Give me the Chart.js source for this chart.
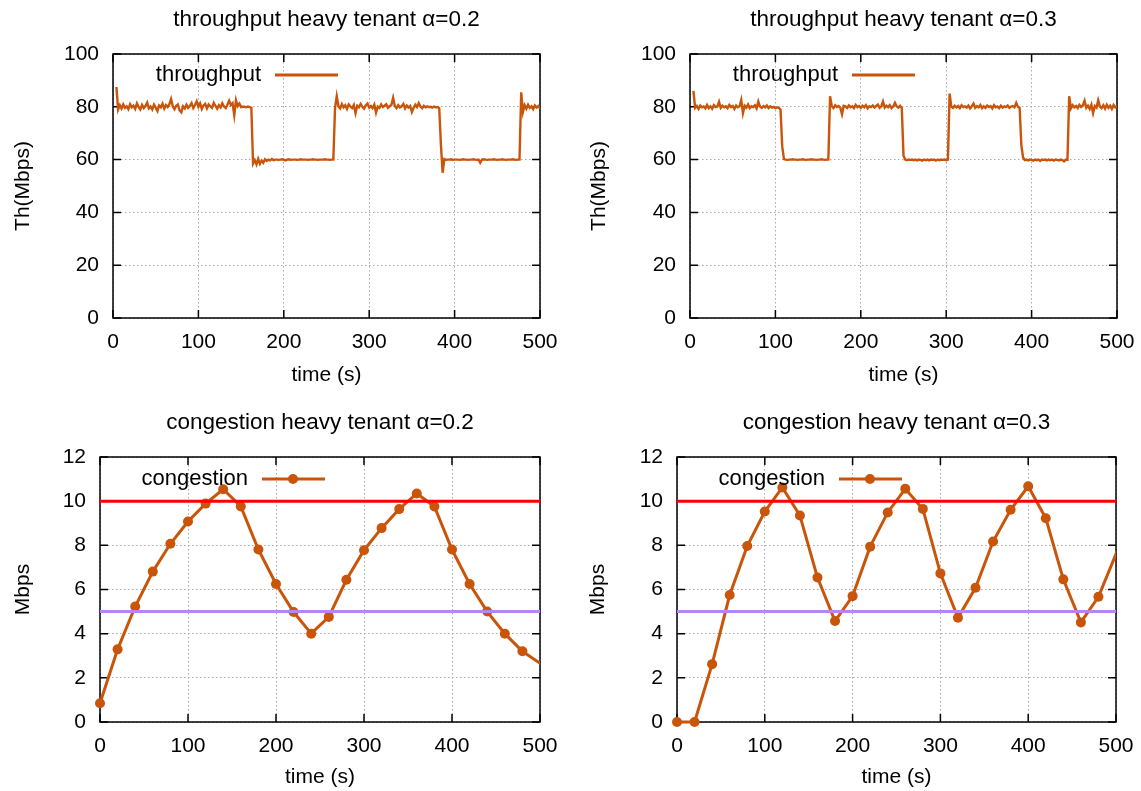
<!DOCTYPE html>
<html>
<head>
<meta charset="utf-8">
<title>heavy tenant</title>
<style>
  body { margin: 0; background: #fff; }
  .panel { position: absolute; }
</style>
</head>
<body>
<div class="panel" style="left:0px;top:0px"><canvas id="thr02" width="570" height="395"></canvas></div>
<div class="panel" style="left:570px;top:0px"><canvas id="thr03" width="571" height="395"></canvas></div>
<div class="panel" style="left:0px;top:395px"><canvas id="cong02" width="570" height="396"></canvas></div>
<div class="panel" style="left:570px;top:395px"><canvas id="cong03" width="571" height="396"></canvas></div>

<script src="https://cdn.jsdelivr.net/npm/chart.js"></script>
<script>
// ---- data ----
const THR_START = 4;   // first throughput sample (s)
const THR_STEP = 2;    // throughput sampling interval (s)

// throughput of the heavy tenant, alpha = 0.2 (Mbps), one row = 20 s
const thr02 = [
  87.5, 79.0, 80.6, 79.3, 80.9, 79.6, 80.2, 79.1, 81.0, 79.8,
  80.4, 79.2, 81.3, 80.0, 79.0, 80.7, 79.5, 80.3, 81.6, 79.4,
  80.1, 79.0, 80.8, 79.7, 78.4, 80.5, 79.8, 81.2, 79.3, 80.6,
  79.9, 81.0, 83.0, 80.2, 79.1, 80.4, 80.9, 78.6, 77.9, 80.2,
  79.4, 80.8, 79.6, 80.3, 81.4, 79.5, 80.7, 82.1, 80.0, 81.3,
  79.2, 80.5, 81.1, 79.4, 80.9, 80.2, 79.6, 81.5, 80.4, 79.3,
  80.6, 79.8, 81.3, 80.1, 79.5, 80.8, 82.3, 80.7, 81.4, 76.8,
  82.5, 80.3, 81.2, 79.9, 80.0, 80.0, 79.8, 80.1, 79.9, 79.6,
  58.5, 59.8, 58.2, 60.3, 58.4, 59.6, 58.8, 60.1, 59.5, 60.0,
  59.7, 60.2, 59.8, 60.0, 60.0, 59.9, 60.0, 60.1, 60.0, 59.7,
  60.0, 60.1, 59.9, 60.0, 60.0, 60.0, 59.9, 60.0, 60.1, 60.0,
  60.0, 60.0, 59.9, 60.0, 60.0, 60.1, 60.0, 60.0, 59.9, 60.0,
  60.0, 60.0, 60.1, 60.0, 60.0, 59.9, 60.0, 60.0, 79.5, 84.0,
  80.2, 79.4, 81.0, 79.8, 80.6, 79.2, 80.9, 80.1, 79.5, 80.7,
  77.6, 80.4, 79.8, 81.1, 80.0, 79.3, 80.6, 81.2, 79.7, 80.3,
  79.5, 80.8, 77.8, 80.1, 79.6, 80.9, 79.9, 80.4, 81.0, 79.6,
  80.2, 80.7, 83.4, 80.3, 79.5, 80.6, 79.8, 80.2, 81.1, 79.4,
  80.5, 79.7, 80.3, 78.0, 79.6, 80.8, 79.9, 81.4, 80.1, 79.5,
  80.4, 79.8, 80.2, 79.9, 80.0, 79.7, 80.1, 79.8, 79.9, 79.5,
  65.5, 55.0, 60.2, 59.9, 60.0, 60.0, 60.1, 59.9, 60.0, 60.0,
  60.0, 59.9, 60.0, 60.1, 60.0, 60.0, 59.9, 60.0, 60.0, 60.1,
  60.0, 59.9, 60.0, 58.8, 60.0, 60.1, 60.0, 59.9, 60.0, 60.0,
  60.0, 60.1, 60.0, 59.9, 60.0, 60.0, 60.1, 60.0, 59.9, 60.0,
  60.0, 60.0, 60.1, 60.0, 59.9, 60.0, 60.0, 85.5, 78.0, 80.6,
  79.3, 80.8, 79.6, 80.2, 79.1, 80.5, 79.7, 80.3, 79.4
];

// throughput of the heavy tenant, alpha = 0.3 (Mbps)
const thr03 = [
  86.0, 79.6, 80.3, 79.2, 80.5, 79.8, 80.1, 79.4, 80.7, 79.5,
  80.2, 79.3, 80.6, 79.9, 80.1, 81.9, 79.6, 80.4, 79.8, 80.2,
  79.5, 80.7, 79.9, 80.3, 79.2, 80.5, 79.8, 80.2, 82.6, 77.6,
  80.4, 79.7, 80.9, 79.5, 80.2, 79.9, 80.6, 79.4, 82.0, 80.1,
  79.6, 80.3, 79.8, 80.5, 79.5, 80.2, 79.7, 80.0, 79.5, 79.8,
  79.6, 79.0, 65.0, 60.2, 60.0, 59.9, 60.0, 60.0, 60.1, 60.0,
  60.0, 59.9, 60.0, 60.0, 60.1, 60.0, 59.9, 60.0, 60.0, 60.1,
  60.0, 60.0, 59.9, 60.0, 60.0, 60.1, 60.0, 59.9, 60.0, 60.0,
  84.0, 80.2, 79.5, 80.6, 79.9, 80.3, 79.7, 77.2, 80.4, 80.2,
  79.6, 80.5, 79.8, 80.2, 79.5, 80.7, 79.9, 80.3, 79.6, 80.4,
  79.8, 80.6, 79.4, 80.2, 79.9, 80.5, 79.7, 80.3, 80.8, 79.6,
  80.2, 82.0, 79.7, 80.4, 79.8, 80.6, 79.5, 80.1, 81.5, 80.2,
  79.7, 80.4, 79.6, 61.5, 60.0, 59.8, 60.0, 59.9, 60.0, 59.8,
  60.0, 59.7, 60.0, 59.9, 59.6, 60.0, 59.8, 60.0, 59.7, 60.0,
  59.9, 60.0, 59.6, 60.0, 59.8, 60.0, 59.9, 60.0, 59.8, 60.0,
  85.0, 80.1, 79.6, 80.4, 79.8, 80.3, 79.5, 80.6, 79.9, 80.2,
  79.7, 80.5, 79.4, 80.2, 81.2, 79.6, 80.3, 79.8, 80.7, 79.5,
  80.2, 79.6, 80.5, 79.9, 80.3, 79.4, 80.6, 79.8, 80.1, 79.5,
  80.4, 79.7, 80.2, 79.9, 80.5, 79.6, 80.1, 80.3, 79.8, 81.5,
  80.0, 79.6, 65.5, 60.8, 59.8, 60.0, 59.7, 60.0, 59.9, 59.6,
  60.0, 59.8, 60.0, 59.5, 60.0, 59.9, 60.0, 59.7, 60.0, 59.8,
  60.0, 59.6, 60.0, 59.9, 59.7, 60.0, 59.8, 59.3, 60.0, 59.9,
  84.0, 79.4, 80.6, 79.8, 80.3, 79.5, 80.7, 79.9, 80.5, 82.3,
  79.6, 80.4, 79.2, 80.8, 77.6, 80.3, 79.7, 82.5, 80.1, 79.5,
  80.6, 79.3, 80.8, 79.6, 80.4, 79.2, 80.7, 79.8, 80.2
];

// congestion samples (s) and values (Mbps)
const congTime = [0, 20, 40, 60, 80, 100, 120, 140, 160, 180, 200, 220, 240,
                  260, 280, 300, 320, 340, 360, 380, 400, 420, 440, 460, 480, 520];
const cong02 = [0.85, 3.29, 5.23, 6.81, 8.07, 9.08, 9.89, 10.54, 9.76, 7.81, 6.25, 4.98, 4.0,
                4.76, 6.44, 7.78, 8.78, 9.64, 10.35, 9.76, 7.81, 6.25, 5.0, 4.0, 3.2, 2.12];
const cong03 = [0, 0, 2.62, 5.75, 7.97, 9.53, 10.62, 9.35, 6.54, 4.57, 5.70, 7.94, 9.49,
                10.56, 9.65, 6.73, 4.72, 6.08, 8.17, 9.61, 10.67, 9.23, 6.46, 4.51, 5.67, 9.55];
const congHigh = 10;
const congLow = 5;

const timeTicks = [0, 100, 200, 300, 400, 500];
const thrTicks = [0, 20, 40, 60, 80, 100];
const congTicks = [0, 2, 4, 6, 8, 10, 12];

// ---- style ----
const ORANGE = '#c9550a';
const FONT = '"Liberation Sans", Arial, sans-serif';
Chart.defaults.font.family = FONT;
Chart.defaults.color = '#000';

// gnuplot-like border with inward tick marks on all four sides
const gnuFrame = {
  id: 'gnuFrame',
  beforeDatasetsDraw(chart) {
    const { ctx, chartArea: a, scales: { x, y } } = chart;
    const len = 8;
    ctx.save();
    ctx.strokeStyle = '#000';
    ctx.lineWidth = 1.5;
    ctx.beginPath();
    x.ticks.forEach(t => {
      const px = x.getPixelForValue(t.value);
      ctx.moveTo(px, a.bottom); ctx.lineTo(px, a.bottom - len);
      ctx.moveTo(px, a.top); ctx.lineTo(px, a.top + len);
    });
    y.ticks.forEach(t => {
      const py = y.getPixelForValue(t.value);
      ctx.moveTo(a.left, py); ctx.lineTo(a.left + len, py);
      ctx.moveTo(a.right, py); ctx.lineTo(a.right - len, py);
    });
    ctx.stroke();
    ctx.strokeRect(a.left, a.top, a.right - a.left, a.bottom - a.top);
    ctx.restore();
  }
};

// key inside the plot: label, then line sample (and point)
const gnuKey = {
  id: 'gnuKey',
  afterDatasetsDraw(chart, args, opts) {
    const { ctx, chartArea: a } = chart;
    const y = a.top + opts.dy;
    ctx.save();
    ctx.font = '22px ' + FONT;
    ctx.fillStyle = '#000';
    ctx.textAlign = 'right';
    ctx.textBaseline = 'middle';
    ctx.fillText(opts.text, a.left + 148, y);
    ctx.strokeStyle = ORANGE;
    ctx.lineWidth = 3;
    ctx.beginPath();
    ctx.moveTo(a.left + 162, y);
    ctx.lineTo(a.left + 225, y);
    ctx.stroke();
    if (opts.marker) {
      ctx.fillStyle = ORANGE;
      ctx.beginPath();
      ctx.arc(a.left + 193, y, 5, 0, Math.PI * 2);
      ctx.fill();
    }
    ctx.restore();
  }
};

function panel(id, g, datasets, yTicks, yLabel, title, key) {
  new Chart(document.getElementById(id), {
    type: 'line',
    data: { datasets: datasets },
    plugins: [gnuFrame, gnuKey],
    options: {
      responsive: false,
      animation: false,
      events: [],
      layout: { padding: { left: 0, top: 0, right: g.padRight, bottom: 0 } },
      plugins: {
        legend: { display: false },
        tooltip: { enabled: false },
        title: {
          display: true, text: title, fullSize: false, color: '#000',
          font: { size: 22.5, weight: 'normal' },
          padding: { top: g.titleTop, bottom: g.titleBottom }
        },
        gnuKey: key
      },
      scales: {
        x: {
          type: 'linear',
          min: timeTicks[0], max: timeTicks[timeTicks.length - 1],
          afterBuildTicks: s => { s.ticks = timeTicks.map(v => ({ value: v })); },
          afterFit: s => { s.height = g.xHeight; s.paddingLeft = 0; s.paddingRight = 0; },
          grid: { color: '#a8a8a8', lineWidth: 1, drawTicks: false },
          border: { display: false, dash: [1.5, 2.5] },
          ticks: { padding: 12, font: { size: 21 }, color: '#000', maxRotation: 0 },
          title: { display: true, text: 'time (s)', color: '#000', font: { size: 21 },
                   padding: { top: 0, bottom: g.xTitlePad } }
        },
        y: {
          type: 'linear',
          min: yTicks[0], max: yTicks[yTicks.length - 1],
          afterBuildTicks: s => { s.ticks = yTicks.map(v => ({ value: v })); },
          afterFit: s => { s.width = g.yWidth; s.paddingTop = 0; s.paddingBottom = 0; },
          grid: { color: '#a8a8a8', lineWidth: 1, drawTicks: false },
          border: { display: false, dash: [1.5, 2.5] },
          ticks: { padding: 14, font: { size: 21 }, color: '#000' },
          title: { display: true, text: yLabel, color: '#000', font: { size: 21 },
                   padding: { top: g.yTitlePad, bottom: 0 } }
        }
      }
    }
  });
}

function thrSet(values) {
  return [{
    data: values.map((v, i) => ({ x: THR_START + i * THR_STEP, y: v })),
    borderColor: ORANGE, borderWidth: 2.4, pointRadius: 0, tension: 0
  }];
}

function congSets(values) {
  const x0 = timeTicks[0], x1 = timeTicks[timeTicks.length - 1];
  return [
    { data: [{ x: x0, y: congHigh }, { x: x1, y: congHigh }],
      borderColor: '#ff0000', borderWidth: 3, pointRadius: 0 },
    { data: [{ x: x0, y: congLow }, { x: x1, y: congLow }],
      borderColor: '#b884f5', borderWidth: 3, pointRadius: 0 },
    { data: values.map((v, i) => ({ x: congTime[i], y: v })),
      borderColor: ORANGE, borderWidth: 3, tension: 0,
      pointRadius: 5, pointBackgroundColor: ORANGE, pointBorderWidth: 0,
      clip: { left: 8, top: 8, right: 0, bottom: 8 } }
  ];
}

panel('thr02',
  { padRight: 30, yWidth: 113, xHeight: 77, titleTop: 6, titleBottom: 21, xTitlePad: 7, yTitlePad: 11 },
  thrSet(thr02), thrTicks, 'Th(Mbps)', 'throughput heavy tenant \u03b1=0.2',
  { text: 'throughput', dy: 21, marker: false });

panel('thr03',
  { padRight: 24, yWidth: 120, xHeight: 77, titleTop: 6, titleBottom: 21, xTitlePad: 7, yTitlePad: 17 },
  thrSet(thr03), thrTicks, 'Th(Mbps)', 'throughput heavy tenant \u03b1=0.3',
  { text: 'throughput', dy: 21, marker: false });

panel('cong02',
  { padRight: 30, yWidth: 100, xHeight: 69, titleTop: 14.5, titleBottom: 20.5, xTitlePad: 1.5, yTitlePad: 10.5 },
  congSets(cong02), congTicks, 'Mbps', 'congestion heavy tenant \u03b1=0.2',
  { text: 'congestion', dy: 22, marker: true });

panel('cong03',
  { padRight: 25, yWidth: 107, xHeight: 69, titleTop: 14.5, titleBottom: 20.5, xTitlePad: 1.5, yTitlePad: 15.5 },
  congSets(cong03), congTicks, 'Mbps', 'congestion heavy tenant \u03b1=0.3',
  { text: 'congestion', dy: 22, marker: true });
</script>
</body>
</html>
